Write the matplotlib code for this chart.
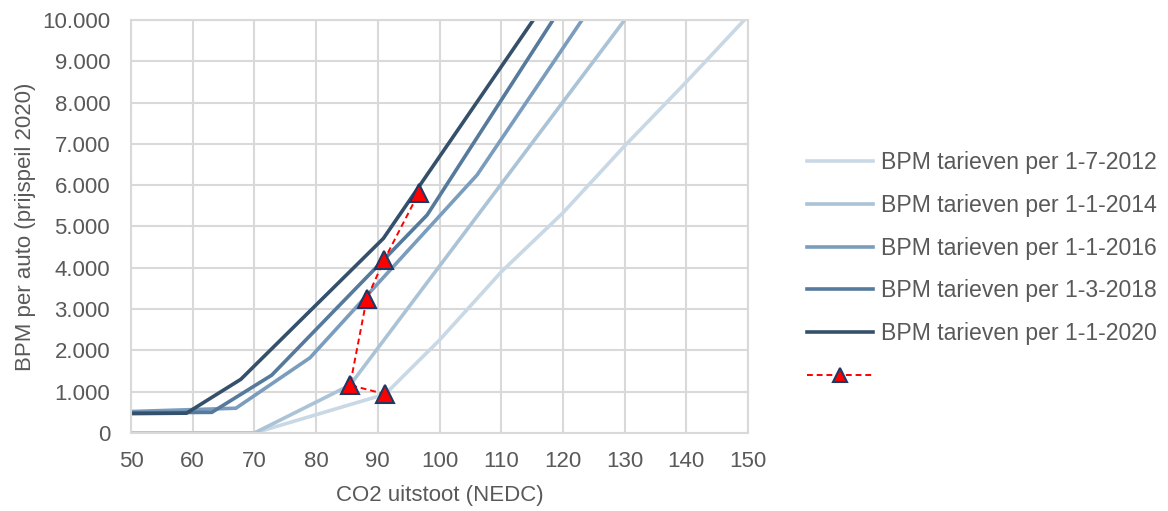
import matplotlib
matplotlib.use("Agg")
import matplotlib.pyplot as plt
from matplotlib.ticker import FuncFormatter, MultipleLocator

plt.rcParams['font.family'] = ['Liberation Sans', 'DejaVu Sans']

# ---- data ----
labels = ["BPM tarieven per 1-7-2012", "BPM tarieven per 1-1-2014",
          "BPM tarieven per 1-1-2016", "BPM tarieven per 1-3-2018",
          "BPM tarieven per 1-1-2020"]

x2012 = [50, 70, 91.2, 100, 110, 120, 130, 140, 149.4]
y2012 = [0, 0, 940, 2250, 3900, 5330, 6950, 8500, 10000]

x2014 = [50, 70, 85.5, 130.0]
y2014 = [0, 0, 1160, 10000]

x2016 = [50, 67.0, 79.0, 106.1, 123.1]
y2016 = [520, 600, 1820, 6250, 10000]

x2018 = [50, 63.1, 72.8, 98.0, 118.4]
y2018 = [490, 500, 1400, 5280, 10000]

x2020 = [50, 59.0, 67.8, 90.9, 115.2]
y2020 = [470, 480, 1300, 4710, 10000]

avg_x = [91.2, 85.5, 88.2, 91.0, 96.6]
avg_y = [940, 1160, 3250, 4180, 5800]

colors = ["#C9D8E5", "#ABC3D6", "#7B9DBD", "#557A9C", "#34506A"]

fig = plt.figure(figsize=(11.68, 5.11), dpi=100)
ax = fig.add_axes([131/1168, 1-433/511, (748-131)/1168, (433-20)/511])

series = [(x2012, y2012), (x2014, y2014), (x2016, y2016), (x2018, y2018), (x2020, y2020)]
handles = []
for (xs, ys), c, lab in zip(series, colors, labels):
    h, = ax.plot(xs, ys, color=c, lw=2.6, solid_joinstyle='miter', label=lab)
    handles.append(h)

hr, = ax.plot(avg_x, avg_y, color="#FF0000", lw=1.4, ls=(0, (3, 2)),
              marker='^', ms=13, mfc="#FF0000", mec="#1F3864", mew=1.5, zorder=5)
handles.append(hr)

ax.set_xlim(50, 150)
ax.set_ylim(0, 10000)
ax.xaxis.set_major_locator(MultipleLocator(10))
ax.yaxis.set_major_locator(MultipleLocator(1000))
ax.yaxis.set_major_formatter(FuncFormatter(lambda v, p: f"{int(v):,}".replace(",", ".")))
ax.grid(True, color="#D9D9D9", lw=1.5)
ax.set_axisbelow(True)
for s in ax.spines.values():
    s.set_color("#D9D9D9")
    s.set_linewidth(1.5)
ax.tick_params(length=0, labelsize=16, labelcolor="#595959")
ax.tick_params(axis='y', pad=15)
ax.tick_params(axis='x', pad=13)

ax.set_xlabel("CO2 uitstoot (NEDC)", fontsize=16, color="#595959", labelpad=9)
ax.set_ylabel("BPM per auto (prijspeil 2020)", fontsize=16, color="#595959", labelpad=4)

fig.legend(handles, labels + [" "], loc='upper left', bbox_to_anchor=(807/1168, 1-151/511),
           frameon=False, fontsize=16.6, handlelength=2.85, handletextpad=0.35,
           labelspacing=0.86, markerscale=0.75, labelcolor="#595959",
           borderaxespad=0, borderpad=0)

fig.savefig("out.png", dpi=100)
